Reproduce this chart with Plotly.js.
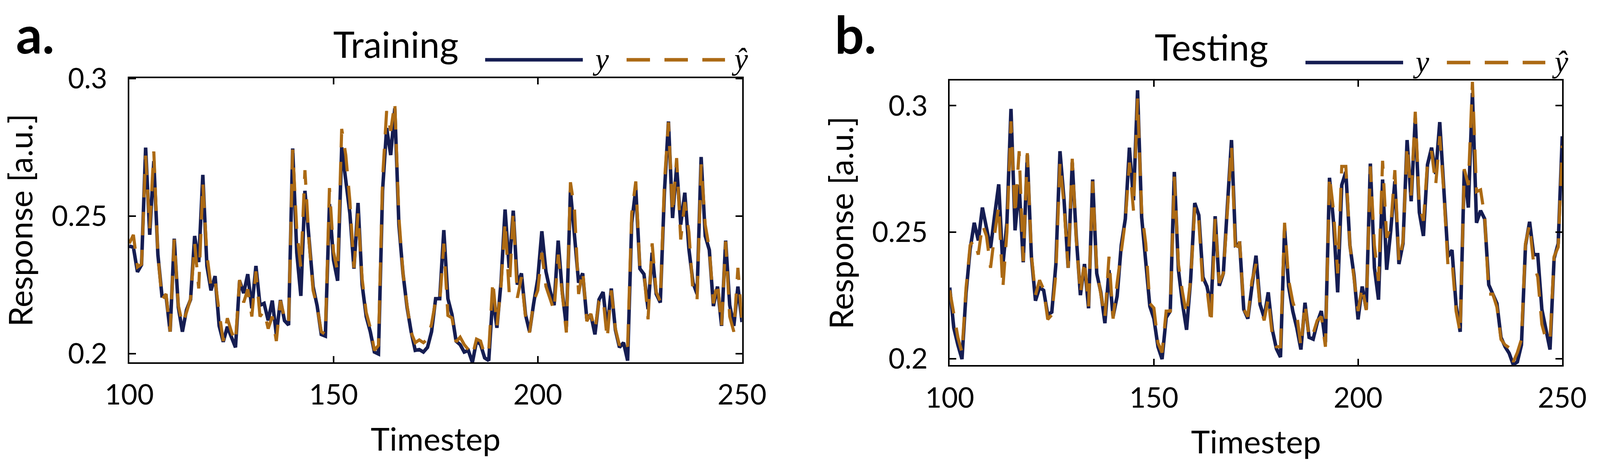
<!DOCTYPE html>
<html>
<head>
<meta charset="utf-8">
<script src="https://cdn.plot.ly/plotly-3.0.1.min.js"></script>
<style>
  html, body { margin: 0; padding: 0; background: #ffffff; }
  #chart { width: 4200px; height: 1200px; }
</style>
</head>
<body>
<div id="chart"></div>
<script>
// ---------------- data ----------------
const timesteps = Array.from({length: 151}, (_, i) => 100 + i);

const trainY = [
  0.2391, 0.2387, 0.2297, 0.2323, 0.2749, 0.2432, 0.2700, 0.2360, 0.2210, 0.2210,
  0.2080, 0.2418, 0.2169, 0.2080, 0.2159, 0.2197, 0.2428, 0.2333, 0.2650, 0.2319,
  0.2230, 0.2282, 0.2101, 0.2043, 0.2098, 0.2060, 0.2023, 0.2265, 0.2220, 0.2289,
  0.2165, 0.2319, 0.2176, 0.2183, 0.2121, 0.2193, 0.2070, 0.2195, 0.2120, 0.2104,
  0.2746, 0.2367, 0.2210, 0.2592, 0.2400, 0.2244, 0.2173, 0.2070, 0.2064, 0.2544,
  0.2340, 0.2265, 0.2750, 0.2633, 0.2510, 0.2309, 0.2548, 0.2251, 0.2135, 0.2080,
  0.2006, 0.1999, 0.2592, 0.2820, 0.2722, 0.2892, 0.2469, 0.2292, 0.2169, 0.2080,
  0.2012, 0.2015, 0.2006, 0.2023, 0.2080, 0.2200, 0.2200, 0.2449, 0.2200, 0.2142,
  0.2046, 0.2033, 0.2006, 0.2012, 0.1968, 0.2046, 0.2033, 0.1985, 0.1975, 0.2210,
  0.2094, 0.2258, 0.2524, 0.2312, 0.2520, 0.2251, 0.2292, 0.2142, 0.2080, 0.2183,
  0.2272, 0.2445, 0.2299, 0.2230, 0.2176, 0.2411, 0.2224, 0.2098, 0.2592, 0.2428,
  0.2258, 0.2292, 0.2128, 0.2142, 0.2070, 0.2197, 0.2224, 0.2087, 0.2237, 0.2087,
  0.2023, 0.2040, 0.1975, 0.2476, 0.2599, 0.2309, 0.2289, 0.2162, 0.2367, 0.2217,
  0.2186, 0.2585, 0.2844, 0.2493, 0.2681, 0.2469, 0.2585, 0.2381, 0.2258, 0.2217,
  0.2715, 0.2428, 0.2377, 0.2173, 0.2244, 0.2101, 0.2411, 0.2176, 0.2101, 0.2244,
  0.2115
];

const trainYhat = [
  0.2401, 0.2432, 0.2315, 0.2325, 0.2720, 0.2456, 0.2735, 0.2360, 0.2197, 0.2217,
  0.2080, 0.2415, 0.2176, 0.2108, 0.2150, 0.2200, 0.2401, 0.2237, 0.2620, 0.2360,
  0.2244, 0.2268, 0.2150, 0.2046, 0.2129, 0.2080, 0.2043, 0.2268, 0.2186, 0.2234,
  0.2135, 0.2299, 0.2135, 0.2156, 0.2091, 0.2135, 0.2046, 0.2193, 0.2130, 0.2108,
  0.2742, 0.2449, 0.2312, 0.2667, 0.2410, 0.2230, 0.2169, 0.2080, 0.2070, 0.2602,
  0.2370, 0.2299, 0.2817, 0.2722, 0.2555, 0.2312, 0.2510, 0.2272, 0.2150, 0.2094,
  0.2012, 0.2030, 0.2633, 0.2882, 0.2810, 0.2913, 0.2497, 0.2292, 0.2176, 0.2077,
  0.2040, 0.2050, 0.2040, 0.2053, 0.2108, 0.2193, 0.2186, 0.2400, 0.2139, 0.2130,
  0.2043, 0.2060, 0.2033, 0.2015, 0.1992, 0.2053, 0.2046, 0.1995, 0.2009, 0.2265,
  0.2101, 0.2245, 0.2480, 0.2224, 0.2517, 0.2203, 0.2278, 0.2135, 0.2077, 0.2190,
  0.2230, 0.2367, 0.2245, 0.2197, 0.2156, 0.2360, 0.2217, 0.2077, 0.2623, 0.2524,
  0.2217, 0.2302, 0.2118, 0.2145, 0.2087, 0.2190, 0.2203, 0.2053, 0.2230, 0.2091,
  0.2030, 0.2053, 0.2026, 0.2510, 0.2626, 0.2312, 0.2299, 0.2125, 0.2401, 0.2224,
  0.2190, 0.2619, 0.2841, 0.2510, 0.2711, 0.2415, 0.2551, 0.2442, 0.2224, 0.2197,
  0.2688, 0.2469, 0.2381, 0.2183, 0.2261, 0.2101, 0.2408, 0.2135, 0.2080, 0.2312,
  0.2115
];

const testY = [
  0.2281, 0.2121, 0.2054, 0.1998, 0.2260, 0.2433, 0.2537, 0.2467, 0.2597, 0.2515,
  0.2437, 0.2567, 0.2689, 0.2366, 0.2537, 0.2987, 0.2507, 0.2686, 0.2381, 0.2805,
  0.2403, 0.2229, 0.2281, 0.2270, 0.2173, 0.2184, 0.2374, 0.2820, 0.2626, 0.2359,
  0.2775, 0.2478, 0.2251, 0.2374, 0.2199, 0.2708, 0.2337, 0.2262, 0.2140, 0.2350,
  0.2166, 0.2247, 0.2448, 0.2552, 0.2834, 0.2626, 0.3061, 0.2559, 0.2374, 0.2207,
  0.2158, 0.2047, 0.1998, 0.2162, 0.2188, 0.2738, 0.2351, 0.2218, 0.2114, 0.2314,
  0.2615, 0.2567, 0.2322, 0.2285, 0.2205, 0.2563, 0.2288, 0.2337, 0.2604, 0.2864,
  0.2448, 0.2455, 0.2195, 0.2158, 0.2285, 0.2407, 0.2214, 0.2162, 0.2262, 0.2114,
  0.2039, 0.2006, 0.2515, 0.2285, 0.2188, 0.2121, 0.2036, 0.2221, 0.2084, 0.2077,
  0.2143, 0.2188, 0.2065, 0.2715, 0.2537, 0.2262, 0.2686, 0.2738, 0.2448, 0.2329,
  0.2155, 0.2285, 0.2195, 0.2771, 0.2359, 0.2233, 0.2708, 0.2351, 0.2507, 0.2701,
  0.2374, 0.2455, 0.2864, 0.2622, 0.2950, 0.2578, 0.2485, 0.2767, 0.2834, 0.2730,
  0.2935, 0.2678, 0.2403, 0.2429, 0.2210, 0.2106, 0.2745, 0.2597, 0.3050, 0.2537,
  0.2585, 0.2552, 0.2292, 0.2255, 0.2218, 0.2084, 0.2047, 0.2021, 0.1976, 0.1987,
  0.2054, 0.2448, 0.2541, 0.2411, 0.2411, 0.2195, 0.2106, 0.2036, 0.2396, 0.2455,
  0.2879
];

const testYhat = [
  0.2270, 0.2173, 0.2084, 0.2024, 0.2280, 0.2448, 0.2470, 0.2411, 0.2530, 0.2485,
  0.2359, 0.2493, 0.2604, 0.2277, 0.2500, 0.2938, 0.2567, 0.2820, 0.2385, 0.2812,
  0.2411, 0.2251, 0.2310, 0.2273, 0.2155, 0.2173, 0.2337, 0.2775, 0.2604, 0.2359,
  0.2790, 0.2470, 0.2255, 0.2389, 0.2207, 0.2701, 0.2351, 0.2255, 0.2160, 0.2403,
  0.2158, 0.2299, 0.2415, 0.2545, 0.2775, 0.2585, 0.3028, 0.2582, 0.2455, 0.2218,
  0.2200, 0.2062, 0.2024, 0.2188, 0.2188, 0.2719, 0.2374, 0.2262, 0.2173, 0.2314,
  0.2600, 0.2545, 0.2285, 0.2277, 0.2136, 0.2552, 0.2299, 0.2337, 0.2582, 0.2842,
  0.2411, 0.2463, 0.2195, 0.2166, 0.2307, 0.2374, 0.2205, 0.2151, 0.2240, 0.2091,
  0.2047, 0.2047, 0.2537, 0.2310, 0.2225, 0.2173, 0.2047, 0.2218, 0.2080, 0.2099,
  0.2151, 0.2166, 0.2047, 0.2723, 0.2582, 0.2337, 0.2760, 0.2760, 0.2448, 0.2329,
  0.2188, 0.2285, 0.2192, 0.2760, 0.2448, 0.2307, 0.2782, 0.2478, 0.2522, 0.2745,
  0.2381, 0.2463, 0.2842, 0.2645, 0.2976, 0.2604, 0.2545, 0.2775, 0.2820, 0.2686,
  0.2879, 0.2656, 0.2370, 0.2389, 0.2188, 0.2102, 0.2749, 0.2686, 0.3094, 0.2660,
  0.2667, 0.2560, 0.2255, 0.2255, 0.2203, 0.2076, 0.2054, 0.2043, 0.1987, 0.2024,
  0.2076, 0.2455, 0.2530, 0.2374, 0.2322, 0.2136, 0.2076, 0.2069, 0.2403, 0.2441,
  0.2842
];

const xTickVals = [100, 150, 200, 250];
const xTickText = ['100', '150', '200', '250'];
const yTickVals = [0.2, 0.25, 0.3];
const yTickText = ['0.2', '0.25', '0.3'];
const panelTitles = ['Training', 'Testing'];
const panelLetters = ['a.', 'b.'];
const seriesNames = ['y', 'ŷ'];

// ---------------- style ----------------
const NAVY = '#151d52';
const ORANGE = '#ac6a14';
const DASH = '60px,37px';
const W = 4200, H = 1200;
const px = v => v / W;
const py = v => 1 - v / H;

const traces = [
  {x: timesteps, y: trainY, xaxis: 'x', yaxis: 'y', type: 'scatter', mode: 'lines',
   name: seriesNames[0], line: {color: NAVY, width: 9}, showlegend: false},
  {x: timesteps, y: trainYhat, xaxis: 'x', yaxis: 'y', type: 'scatter', mode: 'lines',
   name: seriesNames[1], line: {color: ORANGE, width: 8, dash: DASH}, showlegend: false},
  {x: timesteps, y: testY, xaxis: 'x2', yaxis: 'y2', type: 'scatter', mode: 'lines',
   name: seriesNames[0], line: {color: NAVY, width: 9}, showlegend: false},
  {x: timesteps, y: testYhat, xaxis: 'x2', yaxis: 'y2', type: 'scatter', mode: 'lines',
   name: seriesNames[1], line: {color: ORANGE, width: 8, dash: DASH}, showlegend: false}
];

const tickFont = {family: 'Lato, sans-serif', size: 72, color: '#000'};

function xAxis(domain, anchor) {
  return {
    domain: domain, anchor: anchor, range: [100, 250],
    tickvals: xTickVals, ticktext: xTickText,
    ticks: 'inside', ticklen: 16, tickwidth: 4, tickcolor: '#000',
    showline: true, linewidth: 4, linecolor: '#000', mirror: 'ticks',
    showgrid: false, zeroline: false, tickfont: tickFont,
    ticklabelstandoff: 18,
    title: {text: 'Timestep', font: {family: 'Lato, sans-serif', size: 82, color: '#000'}, standoff: 47},
    automargin: false
  };
}
function yAxis(domain, anchor, range) {
  return {
    domain: domain, anchor: anchor, range: range,
    tickvals: yTickVals, ticktext: yTickText,
    ticks: 'inside', ticklen: 17, tickwidth: 4, tickcolor: '#000',
    showline: true, linewidth: 4, linecolor: '#000', mirror: 'ticks',
    showgrid: false, zeroline: false, tickfont: tickFont,
    ticklabelstandoff: 38,
    title: {text: 'Response [a.u.]', font: {family: 'Lato, sans-serif', size: 83, color: '#000'}, standoff: 22},
    automargin: false
  };
}

const offsets = [{dx: 0, dy: 0}, {dx: 2100, dy: 7}];
const annotations = [];
const shapes = [];
offsets.forEach((o, i) => {
  annotations.push({
    xref: 'paper', yref: 'paper', x: px(90 + o.dx), y: py(86), xanchor: 'center', yanchor: 'middle',
    text: '<b>' + panelLetters[i] + '</b>', showarrow: false,
    font: {family: 'Lato, sans-serif', size: 132, color: '#000'}
  });
  annotations.push({
    xref: 'paper', yref: 'paper', x: px(1013 + o.dx - (i ? 12 : 0)), y: py(112 + o.dy), xanchor: 'center', yanchor: 'middle',
    text: panelTitles[i], showarrow: false,
    font: {family: 'Lato, sans-serif', size: 93, color: '#000'}
  });
  // legend samples
  shapes.push({type: 'line', xref: 'paper', yref: 'paper',
    x0: px(1242 + o.dx), x1: px(1492 + o.dx), y0: py(153 + o.dy), y1: py(153 + o.dy),
    line: {color: NAVY, width: 9}});
  shapes.push({type: 'line', xref: 'paper', yref: 'paper',
    x0: px(1604 + o.dx), x1: px(1856 + o.dx), y0: py(153 + o.dy), y1: py(153 + o.dy),
    line: {color: ORANGE, width: 9, dash: DASH}});
  annotations.push({
    xref: 'paper', yref: 'paper', x: px(1538 + o.dx), y: py(150 + o.dy), xanchor: 'center', yanchor: 'middle',
    text: '<i>' + seriesNames[0] + '</i>', showarrow: false,
    font: {family: 'Liberation Serif, serif', size: 78, color: '#000'}
  });
  annotations.push({
    xref: 'paper', yref: 'paper', x: px(1894 + o.dx), y: py(150 + o.dy), xanchor: 'center', yanchor: 'middle',
    text: '<i>' + seriesNames[1] + '</i>', showarrow: false,
    font: {family: 'Liberation Serif, serif', size: 78, color: '#000'}
  });
});

const layout = {
  width: W, height: H,
  margin: {l: 0, r: 0, t: 0, b: 0, pad: 0},
  paper_bgcolor: '#ffffff', plot_bgcolor: '#ffffff',
  showlegend: false,
  xaxis: xAxis([331 / W, 1899.5 / W], 'y'),
  yaxis: yAxis([1 - 927 / H, 1 - 199.6 / H], 'x', [0.19687, 0.3002]),
  xaxis2: xAxis([2431.3 / W, 3999.4 / W], 'y2'),
  yaxis2: yAxis([1 - 934.4 / H, 1 - 205.6 / H], 'x2', [0.1974, 0.3100]),
  annotations: annotations,
  shapes: shapes
};

Plotly.newPlot('chart', traces, layout, {staticPlot: true, displayModeBar: false});
</script>
</body>
</html>
